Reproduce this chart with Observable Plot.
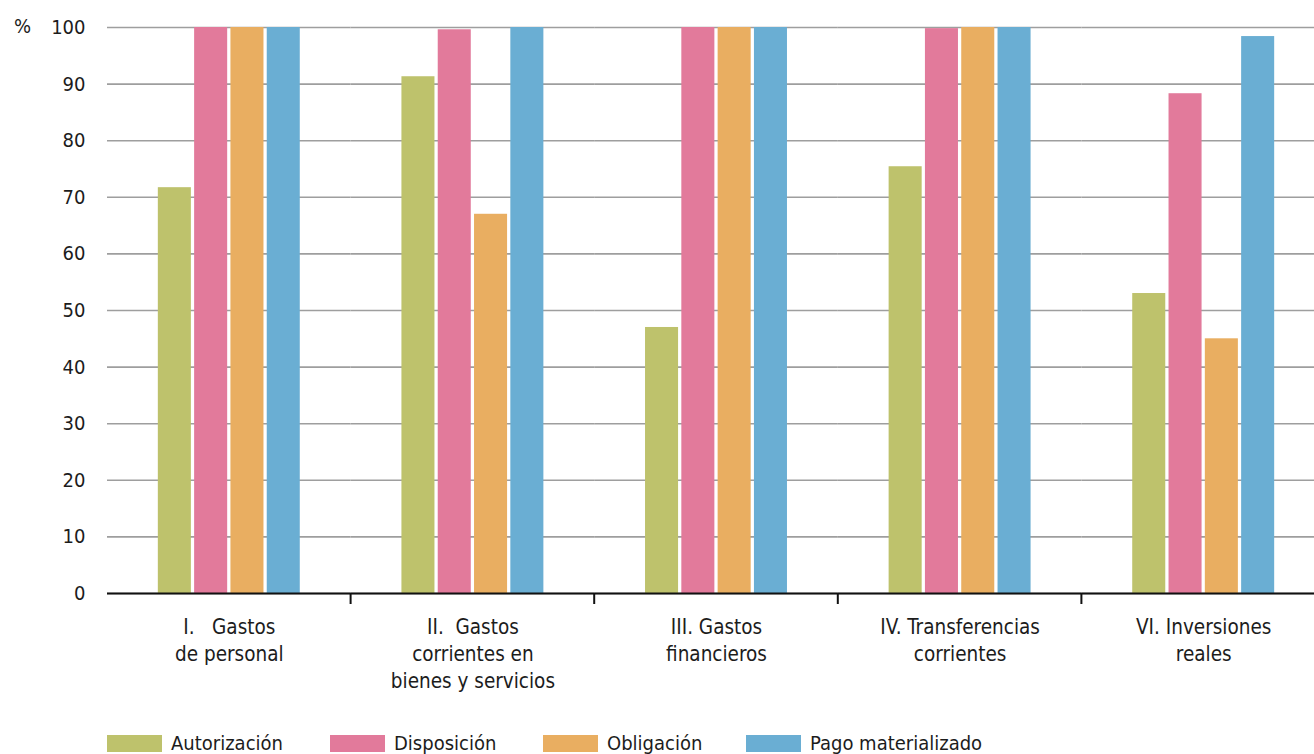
<!DOCTYPE html>
<html><head><meta charset="utf-8">
<script src="https://cdn.jsdelivr.net/npm/d3@7"></script>
<script src="https://cdn.jsdelivr.net/npm/@observablehq/plot@0.6"></script>
<style>
html,body{margin:0;padding:0;overflow:hidden;background:#fff;width:1314px;height:754px;}
body{position:relative;font-family:"DejaVu Sans Condensed","DejaVu Sans",sans-serif;font-stretch:condensed;color:#1c1c1c;}
#chart{position:absolute;left:0;top:0;width:1325px;}
#chart svg{max-width:none !important;}
#unit{position:absolute;left:14px;top:14px;font-size:20px;line-height:24px;}
#legend{position:absolute;left:0;top:732px;width:1314px;height:22px;}
.item{position:absolute;top:0;display:flex;align-items:center;font-size:20px;line-height:22px;}
.sw{width:55px;height:17px;margin-right:9px;}
</style>
</head><body>
<div id="chart"></div>
<div id="unit">%</div>
<div id="legend"></div>
<script>
const categories = ["I. Gastos de personal", "II. Gastos corrientes en bienes y servicios", "III. Gastos financieros", "IV. Transferencias corrientes", "VI. Inversiones reales"];
const categoryLabels = ["I.\u00a0\u00a0 Gastos\nde personal", "II.\u00a0 Gastos\ncorrientes en\nbienes y servicios", "III. Gastos\nfinancieros", "IV. Transferencias\ncorrientes", "VI. Inversiones\nreales"];
const series = ["Autorización", "Disposición", "Obligación", "Pago materializado"];
const autorizacion = [71.7, 91.3, 47.0, 75.4, 53.0];
const disposicion = [100, 99.6, 100, 99.8, 88.3];
const obligacion = [100, 67.0, 100, 100, 45.0];
const pago = [100, 100, 100, 100, 98.4];
const colors = ["#bec26c", "#e27a9b", "#e9ae61", "#6aaed3"];
const yTicks = [0, 10, 20, 30, 40, 50, 60, 70, 80, 90, 100];
const legendLefts = [107, 330, 543, 746];

const seriesValues = [autorizacion, disposicion, obligacion, pago];
const data = [];
categories.forEach((c, i) => series.forEach((s, j) => data.push({category: c, series: s, value: seriesValues[j][i]})));

function boundaryTicks(index, scales, values, dimensions) {
  const g = d3.create("svg:g");
  const x = dimensions.width - dimensions.marginRight;
  const y0 = scales.y(0);
  g.append("line").attr("x1", x).attr("x2", x).attr("y1", y0).attr("y2", y0 + 11)
    .attr("stroke", "#111").attr("stroke-width", 2);
  return g.node();
}

const chart = Plot.plot({
  width: 1325, height: 712,
  marginLeft: 107, marginRight: 0, marginTop: 27, marginBottom: 119,
  style: "font-family:'DejaVu Sans Condensed','DejaVu Sans',sans-serif;font-stretch:condensed;font-size:20px;color:#1c1c1c;background:transparent;overflow:visible;max-width:none;",
  fx: {domain: categories, padding: 0, axis: null, round: false},
  x: {domain: series, paddingInner: 0.09, paddingOuter: 1.4, axis: null, round: false},
  y: {domain: [0, 100]},
  color: {domain: series, range: colors},
  marks: [
    Plot.gridY(yTicks, {stroke: "#9e9e9e", strokeOpacity: 1, strokeWidth: 1.6}),
    Plot.axisY(yTicks, {tickSize: 0, tickPadding: 22, fontSize: 20, label: null}),
    Plot.barY(data, {fx: "category", x: "series", y: "value", fill: "series"}),
    Plot.ruleY([0], {stroke: "#111", strokeWidth: 2}),
    boundaryTicks,
    Plot.text(categories, {fx: d => d, text: (d, i) => categoryLabels[i], frameAnchor: "bottom", lineAnchor: "top", dy: 22, fontSize: 20.5, lineHeight: 1.3, fill: "#1c1c1c"})
  ]
});
document.getElementById("chart").appendChild(chart);

const legend = document.getElementById("legend");
series.forEach((s, i) => {
  const item = document.createElement("div");
  item.className = "item";
  item.style.left = legendLefts[i] + "px";
  const sw = document.createElement("span");
  sw.className = "sw";
  sw.style.background = colors[i];
  const t = document.createElement("span");
  t.textContent = s;
  item.appendChild(sw);
  item.appendChild(t);
  legend.appendChild(item);
});
</script>
</body></html>
